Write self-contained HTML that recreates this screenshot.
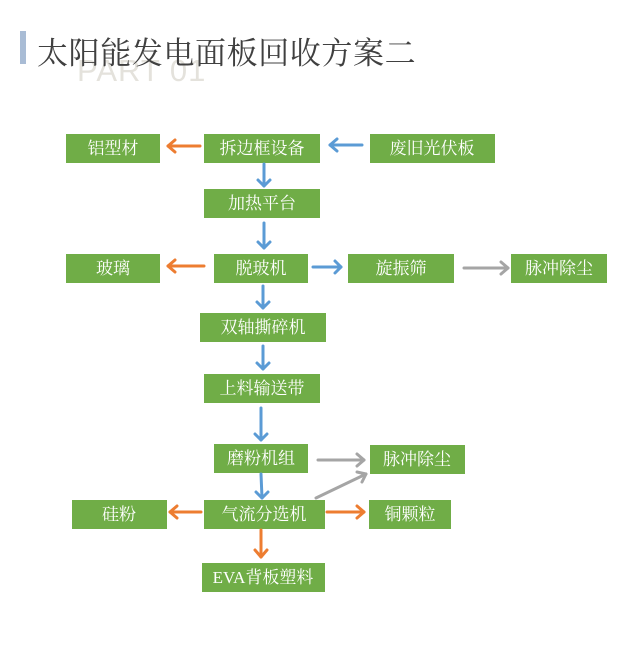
<!DOCTYPE html>
<html><head><meta charset="utf-8"><style>
body{margin:0;background:#fff;width:638px;height:654px;overflow:hidden}
svg{display:block}
.b{fill:#70ad47}
.t{font-family:"Liberation Serif","Noto Serif CJK SC",serif;font-size:17px;fill:#fff;text-anchor:middle;dominant-baseline:central}
.bl{stroke:#5b9bd5}.or{stroke:#ed7d31}.gr{stroke:#a5a5a5}
line,polyline{stroke-width:3;fill:none;stroke-linecap:round;stroke-linejoin:round}
</style></head><body>
<svg width="638" height="654" viewBox="0 0 638 654">
<rect x="20" y="31" width="6" height="33" fill="#a9bcd5"/>
<text x="77" y="81" font-family="Liberation Sans,sans-serif" font-size="31" fill="#e4e2dc" letter-spacing="1">PART 01</text>
<text x="37" y="64" font-family="Liberation Serif,'Noto Serif CJK SC',serif" font-size="31" fill="#404040" letter-spacing="0.6">太阳能发电面板回收方案二</text>

<g>
<rect class="b" x="66" y="134" width="94" height="29"/><text class="t" x="113" y="148.5">铝型材</text>
<rect class="b" x="204" y="134" width="116" height="29"/><text class="t" x="262" y="148.5">拆边框设备</text>
<rect class="b" x="370" y="134" width="125" height="29"/><text class="t" x="432" y="148.5">废旧光伏板</text>
<rect class="b" x="204" y="189" width="116" height="29"/><text class="t" x="262" y="203.5">加热平台</text>
<rect class="b" x="66" y="254" width="94" height="29"/><text class="t" x="113" y="268.5">玻璃</text>
<rect class="b" x="214" y="254" width="94" height="29"/><text class="t" x="261" y="268.5">脱玻机</text>
<rect class="b" x="348" y="254" width="106" height="29"/><text class="t" x="401" y="268.5">旋振筛</text>
<rect class="b" x="511" y="254" width="96" height="29"/><text class="t" x="559" y="268.5">脉冲除尘</text>
<rect class="b" x="200" y="313" width="126" height="29"/><text class="t" x="263" y="327.5">双轴撕碎机</text>
<rect class="b" x="204" y="374" width="116" height="29"/><text class="t" x="262" y="388.5">上料输送带</text>
<rect class="b" x="214" y="444" width="94" height="29"/><text class="t" x="261" y="458.5">磨粉机组</text>
<rect class="b" x="370" y="445" width="95" height="29"/><text class="t" x="417" y="459.5">脉冲除尘</text>
<rect class="b" x="72" y="500" width="95" height="29"/><text class="t" x="119" y="514.5">硅粉</text>
<rect class="b" x="204" y="500" width="121" height="29"/><text class="t" x="264" y="514.5">气流分选机</text>
<rect class="b" x="369" y="500" width="82" height="29"/><text class="t" x="410" y="514.5">铜颗粒</text>
<rect class="b" x="202" y="563" width="123" height="29"/><text class="t" x="263" y="577.5">EVA背板塑料</text>
</g>

<line class="or" x1="200" y1="146" x2="168" y2="146"/><polyline class="or" points="175,140 168,146 175,152"/>
<line class="or" x1="204" y1="266" x2="168" y2="266"/><polyline class="or" points="175,260 168,266 175,272"/>
<line class="or" x1="201" y1="512" x2="170" y2="512"/><polyline class="or" points="177,506 170,512 177,518"/>
<line class="or" x1="327" y1="512" x2="364" y2="512"/><polyline class="or" points="357,506 364,512 357,518"/>
<line class="or" x1="261" y1="530" x2="261" y2="557"/><polyline class="or" points="255,550 261,557 267,550"/>
<line class="bl" x1="362" y1="145" x2="330" y2="145"/><polyline class="bl" points="337,139 330,145 337,151"/>
<line class="bl" x1="264" y1="164" x2="264" y2="186"/><polyline class="bl" points="258,180 264,186 270,180"/>
<line class="bl" x1="264" y1="223" x2="264" y2="248"/><polyline class="bl" points="258,242 264,248 270,242"/>
<line class="bl" x1="313" y1="267" x2="341" y2="267"/><polyline class="bl" points="335,261 341,267 335,273"/>
<line class="bl" x1="263" y1="286" x2="263" y2="308"/><polyline class="bl" points="257,302 263,308 269,302"/>
<line class="bl" x1="263" y1="346" x2="263" y2="369"/><polyline class="bl" points="257,363 263,369 269,363"/>
<line class="bl" x1="261" y1="408" x2="261" y2="440"/><polyline class="bl" points="255,434 261,440 267,434"/>
<line class="bl" x1="261" y1="474" x2="262" y2="498"/><polyline class="bl" points="256,492 262,498 268,492"/>
<line class="gr" x1="464" y1="268" x2="508" y2="268"/><polyline class="gr" points="501,262 508,268 501,274"/>
<line class="gr" x1="318" y1="460" x2="364" y2="460"/><polyline class="gr" points="357,454 364,460 357,466"/>
<line class="gr" x1="316" y1="498" x2="366" y2="474"/><polyline class="gr" points="357,472 366,474 362,482"/>
</svg>
</body></html>
